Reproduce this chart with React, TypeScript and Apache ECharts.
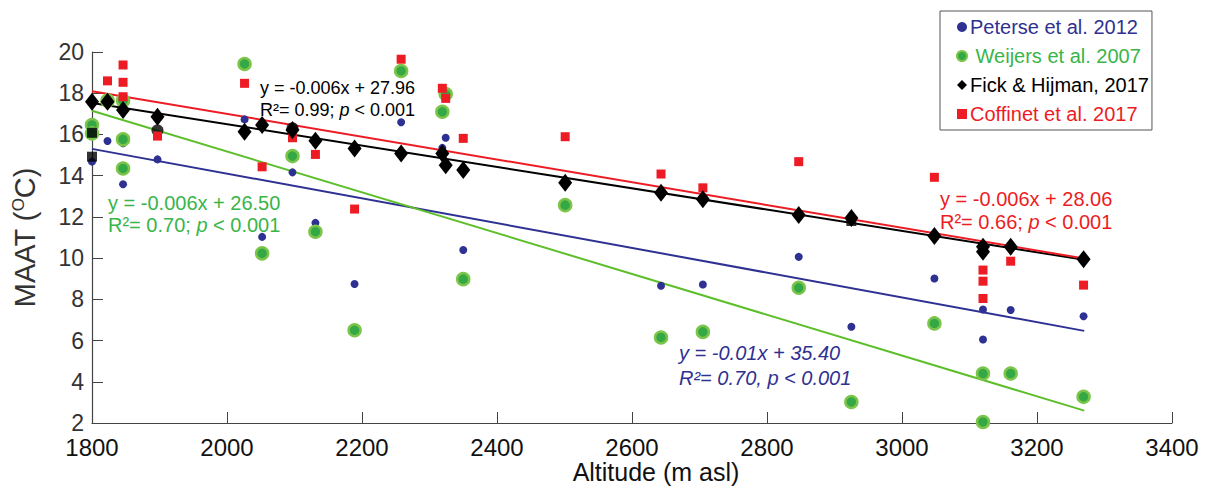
import React, { useEffect, useRef } from "react";
import * as echarts from "echarts";

// ---- Data (altitude m asl, MAAT °C) ----
const peterse2012: [number, number][] = [
  [1800, 14.68], [1823, 15.68], [1846, 15.57], [1846, 14.4], [1846, 13.58], [1897, 14.79],
  [2026, 16.73], [2052, 11.03], [2097, 14.16], [2131, 11.71], [2189, 8.74], [2258, 16.59],
  [2319, 15.35], [2324, 15.84], [2350, 10.39], [2501, 12.6], [2643, 8.66], [2705, 8.72],
  [2847, 10.06], [2925, 6.67], [3048, 9.01], [3120, 7.51], [3120, 6.05], [3120, 2.05],
  [3161, 7.48], [3269, 7.18],
];
const weijers2007: [number, number][] = [
  [1800, 16.46], [1800, 16.05], [1823, 17.64], [1846, 17.64], [1846, 15.76], [1846, 14.35],
  [2026, 19.42], [2052, 10.23], [2097, 14.95], [2131, 11.28], [2189, 6.5], [2258, 19.08],
  [2319, 17.1], [2324, 17.96], [2350, 8.98], [2501, 12.57], [2643, 6.15], [2705, 6.42],
  [2847, 8.56], [2925, 3.02], [3048, 6.83], [3120, 4.4], [3120, 2.05], [3161, 4.4], [3269, 3.27],
];
const fickHijman2017: [number, number][] = [
  [1800, 17.59], [1823, 17.59], [1846, 17.18], [1897, 16.86], [2026, 16.13], [2052, 16.46],
  [2097, 16.21], [2131, 15.7], [2189, 15.32], [2258, 15.08], [2319, 15.08], [2324, 14.51],
  [2350, 14.27], [2501, 13.66], [2643, 13.17], [2705, 12.85], [2847, 12.09], [2925, 11.95],
  [3048, 11.07], [3120, 10.55], [3120, 10.31], [3161, 10.55], [3269, 9.95],
];
const fickExtraSquares: [number, number][] = [[1800, 16.08], [1800, 14.92], [2925, 11.8]];
const fickExtraCircles: [number, number][] = [[1897, 16.2], [2097, 16.3]];
const coffinet2017: [number, number][] = [
  [1823, 18.6], [1846, 19.37], [1846, 18.53], [1846, 17.83], [1897, 15.92], [2026, 18.48],
  [2052, 14.43], [2097, 15.84], [2131, 15.03], [2189, 12.38], [2258, 19.65], [2319, 18.24],
  [2324, 17.75], [2350, 15.81], [2501, 15.89], [2643, 14.08], [2705, 13.41], [2847, 14.68],
  [3048, 13.92], [3120, 9.42], [3120, 8.88], [3120, 8.04], [3161, 9.85], [3269, 8.69],
];

// regression line end points
const fitAltitudes = [1800, 3270];
const fitPeterse = [15.3, 6.47];
const fitWeijers = [17.15, 2.6];
const fitFick = [17.53, 9.92];
const fitCoffinet = [18.1, 9.98];

const xTicks = { min: 1800, max: 3400, interval: 200 };
const yTicks = { min: 2, max: 20, interval: 2 };

const BLUE = "#2e3192";
const GREEN = "#39b54a";
const RED = "#ed1c24";
const BLACK = "#000000";
const FONT = "'Liberation Sans', Arial, Helvetica, sans-serif";

const names = {
  p: "Peterse et al. 2012",
  w: " Weijers et al. 2007",
  f: "Fick & Hijman, 2017",
  c: "Coffinet et al. 2017",
};

function fitLine(name: string, ys: number[], color: string) {
  return {
    name,
    type: "line",
    data: fitAltitudes.map((x, i) => [x, ys[i]]),
    symbol: "none",
    lineStyle: { color, width: 2 },
    z: 2,
    silent: true,
  };
}

export default function App() {
  const ref = useRef<HTMLDivElement>(null);
  useEffect(() => {
    if (!ref.current) return;
    const chart = echarts.init(ref.current, null, { renderer: "svg" });
    const textEl = (x: number, y: number, text: string, color: string, size: number, italic: boolean, align = "left") => ({
      type: "text",
      x,
      y,
      z: 10,
      style: {
        text,
        fill: color,
        fontSize: size,
        fontFamily: FONT,
        fontStyle: italic ? "italic" : "normal",
        verticalAlign: "middle",
        align,
        rich: {
          i: { fontStyle: "italic", fontSize: size, fontFamily: FONT, fill: color },
        },
      },
    });
    chart.setOption({
      animation: false,
      grid: { left: 92, right: 37, top: 52, bottom: 63 },
      xAxis: {
        type: "value",
        ...xTicks,
        axisLine: { lineStyle: { color: "#444", width: 1.2 } },
        axisTick: { inside: true, length: 11, lineStyle: { color: "#444" } },
        axisLabel: {
          fontSize: 24,
          lineHeight: 20,
          color: "#111",
          fontFamily: FONT,
          margin: 14,
          formatter: (v: number) => String(v),
        },
        splitLine: { show: false },
      },
      yAxis: {
        type: "value",
        ...yTicks,
        name: "MAAT ({s|O}C)",
        nameLocation: "middle",
        nameRotate: 90,
        nameGap: 53,
        nameTextStyle: {
          fontSize: 29,
          color: "#333",
          fontFamily: FONT,
          rich: { s: { fontSize: 17, verticalAlign: "top", color: "#333", fontFamily: FONT } },
        },
        axisLine: { show: true, lineStyle: { color: "#444", width: 1.2 } },
        axisTick: { show: true, inside: true, length: 11, lineStyle: { color: "#444" } },
        axisLabel: { fontSize: 23, lineHeight: 20, color: "#333", fontFamily: FONT, margin: 8 },
        splitLine: { show: false },
      },
      legend: {
        data: [
          { name: names.p, textStyle: { color: BLUE }, icon: "circle" },
          { name: names.w, textStyle: { color: GREEN }, icon: "circle" },
          { name: names.f, textStyle: { color: BLACK }, icon: "diamond" },
          { name: names.c, textStyle: { color: RED }, icon: "rect" },
        ],
        orient: "vertical",
        left: 940,
        top: 11,
        padding: [6, 3, 6, 16],
        itemGap: 9,
        itemWidth: 10,
        itemHeight: 10,
        borderColor: "#555",
        borderWidth: 1,
        textStyle: { fontSize: 20, fontFamily: FONT, lineHeight: 20, padding: [0, 0, 0, -2] },
        selectedMode: false,
      },
      graphic: [
        textEl(656, 472, "Altitude (m asl)", "#111", 25, false, "center"),
        textEl(260, 88, "y = -0.006x + 27.96", BLACK, 18, false),
        textEl(260, 110, "R²= 0.99; {i|p} < 0.001", BLACK, 18, false),
        textEl(108, 203, "y = -0.006x + 26.50", GREEN, 20, false),
        textEl(108, 225, "R²= 0.70; {i|p} < 0.001", GREEN, 20, false),
        textEl(679, 353, "y = -0.01x + 35.40", BLUE, 20, true),
        textEl(679, 378, "R²= 0.70, p < 0.001", BLUE, 20, true),
        textEl(940, 199, "y = -0.006x + 28.06", RED, 20, false),
        textEl(940, 222, "R²= 0.66; {i|p} < 0.001", RED, 20, false),
      ],
      series: [
        fitLine("fitP", fitPeterse, BLUE),
        fitLine("fitW", fitWeijers, "#5cbf2a"),
        fitLine("fitF", fitFick, BLACK),
        fitLine("fitC", fitCoffinet, RED),
        {
          name: names.p,
          type: "scatter",
          data: peterse2012,
          symbol: "circle",
          symbolSize: 8,
          itemStyle: { color: BLUE, opacity: 1 },
          z: 3,
        },
        {
          name: names.w,
          type: "scatter",
          data: weijers2007,
          symbol: "circle",
          symbolSize: 12,
          itemStyle: { color: "#33a845", borderColor: "#7cc54a", borderWidth: 2.5, opacity: 1 },
          z: 4,
        },
        {
          name: "fickSq",
          type: "scatter",
          data: fickExtraSquares,
          symbol: "rect",
          symbolSize: 10,
          itemStyle: { color: BLACK },
          z: 5,
        },
        {
          name: "fickCi",
          type: "scatter",
          data: fickExtraCircles,
          symbol: "circle",
          symbolSize: 12,
          itemStyle: { color: BLACK },
          z: 5,
        },
        {
          name: names.c,
          type: "scatter",
          data: coffinet2017,
          symbol: "rect",
          symbolSize: 9,
          itemStyle: { color: RED, opacity: 1 },
          z: 6,
        },
        {
          name: names.f,
          type: "scatter",
          data: fickHijman2017,
          symbol: "diamond",
          symbolSize: [14, 18],
          itemStyle: { color: BLACK, opacity: 1 },
          z: 7,
        },
      ],
    });
    return () => chart.dispose();
  }, []);
  return <div ref={ref} style={{ position: "fixed", left: 0, top: 0, width: 1209, height: 486, background: "#fff" }} />;
}
